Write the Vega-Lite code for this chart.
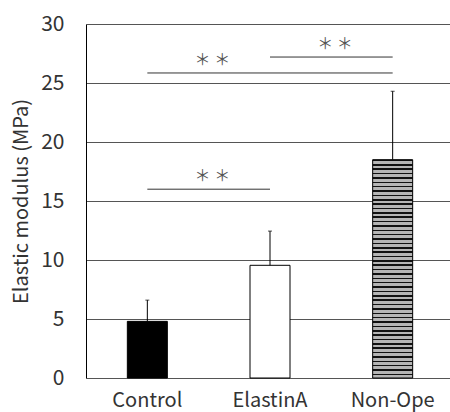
{
  "$schema": "https://vega.github.io/schema/vega-lite/v6.json",
  "width": 364,
  "height": 354,
  "autosize": {"type": "none"},
  "padding": {"left": 86, "top": 24, "right": 0, "bottom": 34},
  "background": "white",
  "config": {
    "font": "Noto Sans CJK JP",
    "view": {"stroke": null}
  },
  "datasets": {
    "bars": [
      {"group": "Control", "value": 4.8, "upper": 6.6},
      {"group": "ElastinA", "value": 9.55, "upper": 12.45},
      {"group": "Non-Ope", "value": 18.5, "upper": 24.3}
    ],
    "sig": [
      {"from": "Control", "to": "ElastinA", "y": 16.0, "label": "＊ ＊", "pos": "ElastinA"},
      {"from": "Control", "to": "Non-Ope", "y": 25.85, "label": "＊ ＊", "pos": "ElastinA"},
      {"from": "ElastinA", "to": "Non-Ope", "y": 27.2, "label": "＊ ＊", "pos": "Non-Ope"}
    ]
  },
  "encoding": {
    "x": {
      "field": "group",
      "type": "nominal",
      "sort": ["Control", "ElastinA", "Non-Ope"],
      "scale": {"domain": ["Control", "ElastinA", "Non-Ope"], "range": [0, 368], "paddingInner": 0, "paddingOuter": 0},
      "axis": {"title": null, "domain": false, "ticks": false, "labelAngle": 0, "labelFontSize": 20, "labelColor": "#333333", "labelPadding": 12, "labelFont": "Noto Sans CJK JP"}
    }
  },
  "layer": [
    {
      "data": {"name": "bars"},
      "transform": [{"filter": "datum.group !== 'Non-Ope'"}],
      "mark": {"type": "bar", "width": 40, "stroke": "#000000", "strokeWidth": 1},
      "encoding": {
        "y": {
          "field": "value",
          "type": "quantitative",
          "scale": {"domain": [0, 30], "nice": false},
          "axis": {
            "values": [0, 5, 10, 15, 20, 25, 30],
            "title": "Elastic modulus (MPa)",
            "titleFontSize": 20,
            "titleFontWeight": "normal",
            "titleColor": "#333333",
            "titlePadding": 9,
            "labelFontSize": 21,
            "labelColor": "#333333",
            "labelPadding": 22,
            "ticks": false,
            "domain": true,
            "domainColor": "#000000",
            "domainWidth": 1,
            "grid": true,
            "gridColor": "#555555",
            "gridWidth": 1
          }
        },
        "fill": {
          "field": "group",
          "type": "nominal",
          "scale": {"domain": ["Control", "ElastinA"], "range": ["#000000", "#ffffff"]},
          "legend": null
        }
      }
    },
    {
      "data": {"name": "bars"},
      "transform": [{"filter": "datum.group === 'Non-Ope'"}],
      "mark": {
        "type": "bar",
        "width": 40,
        "stroke": "#000000",
        "strokeWidth": 1,
        "fill": {
          "gradient": "linear",
          "x1": 0, "y1": 0, "x2": 0, "y2": 1,
          "stops": [
            {"offset": 0, "color": "#111"}, {"offset": 0.007, "color": "#111"}, {"offset": 0.007, "color": "#b5b5b5"}, {"offset": 0.02, "color": "#b5b5b5"},
            {"offset": 0.02, "color": "#111"}, {"offset": 0.027, "color": "#111"}, {"offset": 0.027, "color": "#b5b5b5"}, {"offset": 0.04, "color": "#b5b5b5"},
            {"offset": 0.04, "color": "#111"}, {"offset": 0.047, "color": "#111"}, {"offset": 0.047, "color": "#b5b5b5"}, {"offset": 0.06, "color": "#b5b5b5"},
            {"offset": 0.06, "color": "#111"}, {"offset": 0.067, "color": "#111"}, {"offset": 0.067, "color": "#b5b5b5"}, {"offset": 0.08, "color": "#b5b5b5"},
            {"offset": 0.08, "color": "#111"}, {"offset": 0.087, "color": "#111"}, {"offset": 0.087, "color": "#b5b5b5"}, {"offset": 0.10, "color": "#b5b5b5"},
            {"offset": 0.10, "color": "#111"}, {"offset": 0.107, "color": "#111"}, {"offset": 0.107, "color": "#b5b5b5"}, {"offset": 0.12, "color": "#b5b5b5"},
            {"offset": 0.12, "color": "#111"}, {"offset": 0.127, "color": "#111"}, {"offset": 0.127, "color": "#b5b5b5"}, {"offset": 0.14, "color": "#b5b5b5"},
            {"offset": 0.14, "color": "#111"}, {"offset": 0.147, "color": "#111"}, {"offset": 0.147, "color": "#b5b5b5"}, {"offset": 0.16, "color": "#b5b5b5"},
            {"offset": 0.16, "color": "#111"}, {"offset": 0.167, "color": "#111"}, {"offset": 0.167, "color": "#b5b5b5"}, {"offset": 0.18, "color": "#b5b5b5"},
            {"offset": 0.18, "color": "#111"}, {"offset": 0.187, "color": "#111"}, {"offset": 0.187, "color": "#b5b5b5"}, {"offset": 0.20, "color": "#b5b5b5"},
            {"offset": 0.20, "color": "#111"}, {"offset": 0.207, "color": "#111"}, {"offset": 0.207, "color": "#b5b5b5"}, {"offset": 0.22, "color": "#b5b5b5"},
            {"offset": 0.22, "color": "#111"}, {"offset": 0.227, "color": "#111"}, {"offset": 0.227, "color": "#b5b5b5"}, {"offset": 0.24, "color": "#b5b5b5"},
            {"offset": 0.24, "color": "#111"}, {"offset": 0.247, "color": "#111"}, {"offset": 0.247, "color": "#b5b5b5"}, {"offset": 0.26, "color": "#b5b5b5"},
            {"offset": 0.26, "color": "#111"}, {"offset": 0.267, "color": "#111"}, {"offset": 0.267, "color": "#b5b5b5"}, {"offset": 0.28, "color": "#b5b5b5"},
            {"offset": 0.28, "color": "#111"}, {"offset": 0.287, "color": "#111"}, {"offset": 0.287, "color": "#b5b5b5"}, {"offset": 0.30, "color": "#b5b5b5"},
            {"offset": 0.30, "color": "#111"}, {"offset": 0.307, "color": "#111"}, {"offset": 0.307, "color": "#b5b5b5"}, {"offset": 0.32, "color": "#b5b5b5"},
            {"offset": 0.32, "color": "#111"}, {"offset": 0.327, "color": "#111"}, {"offset": 0.327, "color": "#b5b5b5"}, {"offset": 0.34, "color": "#b5b5b5"},
            {"offset": 0.34, "color": "#111"}, {"offset": 0.347, "color": "#111"}, {"offset": 0.347, "color": "#b5b5b5"}, {"offset": 0.36, "color": "#b5b5b5"},
            {"offset": 0.36, "color": "#111"}, {"offset": 0.367, "color": "#111"}, {"offset": 0.367, "color": "#b5b5b5"}, {"offset": 0.38, "color": "#b5b5b5"},
            {"offset": 0.38, "color": "#111"}, {"offset": 0.387, "color": "#111"}, {"offset": 0.387, "color": "#b5b5b5"}, {"offset": 0.40, "color": "#b5b5b5"},
            {"offset": 0.40, "color": "#111"}, {"offset": 0.407, "color": "#111"}, {"offset": 0.407, "color": "#b5b5b5"}, {"offset": 0.42, "color": "#b5b5b5"},
            {"offset": 0.42, "color": "#111"}, {"offset": 0.427, "color": "#111"}, {"offset": 0.427, "color": "#b5b5b5"}, {"offset": 0.44, "color": "#b5b5b5"},
            {"offset": 0.44, "color": "#111"}, {"offset": 0.447, "color": "#111"}, {"offset": 0.447, "color": "#b5b5b5"}, {"offset": 0.46, "color": "#b5b5b5"},
            {"offset": 0.46, "color": "#111"}, {"offset": 0.467, "color": "#111"}, {"offset": 0.467, "color": "#b5b5b5"}, {"offset": 0.48, "color": "#b5b5b5"},
            {"offset": 0.48, "color": "#111"}, {"offset": 0.487, "color": "#111"}, {"offset": 0.487, "color": "#b5b5b5"}, {"offset": 0.50, "color": "#b5b5b5"},
            {"offset": 0.50, "color": "#111"}, {"offset": 0.507, "color": "#111"}, {"offset": 0.507, "color": "#b5b5b5"}, {"offset": 0.52, "color": "#b5b5b5"},
            {"offset": 0.52, "color": "#111"}, {"offset": 0.527, "color": "#111"}, {"offset": 0.527, "color": "#b5b5b5"}, {"offset": 0.54, "color": "#b5b5b5"},
            {"offset": 0.54, "color": "#111"}, {"offset": 0.547, "color": "#111"}, {"offset": 0.547, "color": "#b5b5b5"}, {"offset": 0.56, "color": "#b5b5b5"},
            {"offset": 0.56, "color": "#111"}, {"offset": 0.567, "color": "#111"}, {"offset": 0.567, "color": "#b5b5b5"}, {"offset": 0.58, "color": "#b5b5b5"},
            {"offset": 0.58, "color": "#111"}, {"offset": 0.587, "color": "#111"}, {"offset": 0.587, "color": "#b5b5b5"}, {"offset": 0.60, "color": "#b5b5b5"},
            {"offset": 0.60, "color": "#111"}, {"offset": 0.607, "color": "#111"}, {"offset": 0.607, "color": "#b5b5b5"}, {"offset": 0.62, "color": "#b5b5b5"},
            {"offset": 0.62, "color": "#111"}, {"offset": 0.627, "color": "#111"}, {"offset": 0.627, "color": "#b5b5b5"}, {"offset": 0.64, "color": "#b5b5b5"},
            {"offset": 0.64, "color": "#111"}, {"offset": 0.647, "color": "#111"}, {"offset": 0.647, "color": "#b5b5b5"}, {"offset": 0.66, "color": "#b5b5b5"},
            {"offset": 0.66, "color": "#111"}, {"offset": 0.667, "color": "#111"}, {"offset": 0.667, "color": "#b5b5b5"}, {"offset": 0.68, "color": "#b5b5b5"},
            {"offset": 0.68, "color": "#111"}, {"offset": 0.687, "color": "#111"}, {"offset": 0.687, "color": "#b5b5b5"}, {"offset": 0.70, "color": "#b5b5b5"},
            {"offset": 0.70, "color": "#111"}, {"offset": 0.707, "color": "#111"}, {"offset": 0.707, "color": "#b5b5b5"}, {"offset": 0.72, "color": "#b5b5b5"},
            {"offset": 0.72, "color": "#111"}, {"offset": 0.727, "color": "#111"}, {"offset": 0.727, "color": "#b5b5b5"}, {"offset": 0.74, "color": "#b5b5b5"},
            {"offset": 0.74, "color": "#111"}, {"offset": 0.747, "color": "#111"}, {"offset": 0.747, "color": "#b5b5b5"}, {"offset": 0.76, "color": "#b5b5b5"},
            {"offset": 0.76, "color": "#111"}, {"offset": 0.767, "color": "#111"}, {"offset": 0.767, "color": "#b5b5b5"}, {"offset": 0.78, "color": "#b5b5b5"},
            {"offset": 0.78, "color": "#111"}, {"offset": 0.787, "color": "#111"}, {"offset": 0.787, "color": "#b5b5b5"}, {"offset": 0.80, "color": "#b5b5b5"},
            {"offset": 0.80, "color": "#111"}, {"offset": 0.807, "color": "#111"}, {"offset": 0.807, "color": "#b5b5b5"}, {"offset": 0.82, "color": "#b5b5b5"},
            {"offset": 0.82, "color": "#111"}, {"offset": 0.827, "color": "#111"}, {"offset": 0.827, "color": "#b5b5b5"}, {"offset": 0.84, "color": "#b5b5b5"},
            {"offset": 0.84, "color": "#111"}, {"offset": 0.847, "color": "#111"}, {"offset": 0.847, "color": "#b5b5b5"}, {"offset": 0.86, "color": "#b5b5b5"},
            {"offset": 0.86, "color": "#111"}, {"offset": 0.867, "color": "#111"}, {"offset": 0.867, "color": "#b5b5b5"}, {"offset": 0.88, "color": "#b5b5b5"},
            {"offset": 0.88, "color": "#111"}, {"offset": 0.887, "color": "#111"}, {"offset": 0.887, "color": "#b5b5b5"}, {"offset": 0.90, "color": "#b5b5b5"},
            {"offset": 0.90, "color": "#111"}, {"offset": 0.907, "color": "#111"}, {"offset": 0.907, "color": "#b5b5b5"}, {"offset": 0.92, "color": "#b5b5b5"},
            {"offset": 0.92, "color": "#111"}, {"offset": 0.927, "color": "#111"}, {"offset": 0.927, "color": "#b5b5b5"}, {"offset": 0.94, "color": "#b5b5b5"},
            {"offset": 0.94, "color": "#111"}, {"offset": 0.947, "color": "#111"}, {"offset": 0.947, "color": "#b5b5b5"}, {"offset": 0.96, "color": "#b5b5b5"},
            {"offset": 0.96, "color": "#111"}, {"offset": 0.967, "color": "#111"}, {"offset": 0.967, "color": "#b5b5b5"}, {"offset": 0.98, "color": "#b5b5b5"},
            {"offset": 0.98, "color": "#111"}, {"offset": 0.987, "color": "#111"}, {"offset": 0.987, "color": "#b5b5b5"}, {"offset": 1.0, "color": "#b5b5b5"}
          ]
        }
      },
      "encoding": {
        "y": {"field": "value", "type": "quantitative"}
      }
    },
    {
      "data": {"name": "bars"},
      "mark": {"type": "rule", "color": "#000000", "strokeWidth": 1},
      "encoding": {
        "y": {"field": "value", "type": "quantitative"},
        "y2": {"field": "upper"}
      }
    },
    {
      "data": {"name": "bars"},
      "mark": {"type": "tick", "color": "#000000", "thickness": 1, "size": 4, "orient": "horizontal"},
      "encoding": {
        "y": {"field": "upper", "type": "quantitative"}
      }
    },
    {
      "data": {"name": "sig"},
      "mark": {"type": "rule", "color": "#333333", "strokeWidth": 1},
      "encoding": {
        "x": {"field": "from", "type": "nominal"},
        "x2": {"field": "to"},
        "y": {"field": "y", "type": "quantitative"}
      }
    },
    {
      "data": {"name": "sig"},
      "mark": {"type": "text", "color": "#555555", "fontSize": 16, "baseline": "middle", "align": "center", "dy": -13, "font": "Noto Sans CJK JP"},
      "encoding": {
        "x": {"field": "pos", "type": "nominal", "bandPosition": 0.03},
        "y": {"field": "y", "type": "quantitative"},
        "text": {"field": "label"}
      }
    }
  ]
}
